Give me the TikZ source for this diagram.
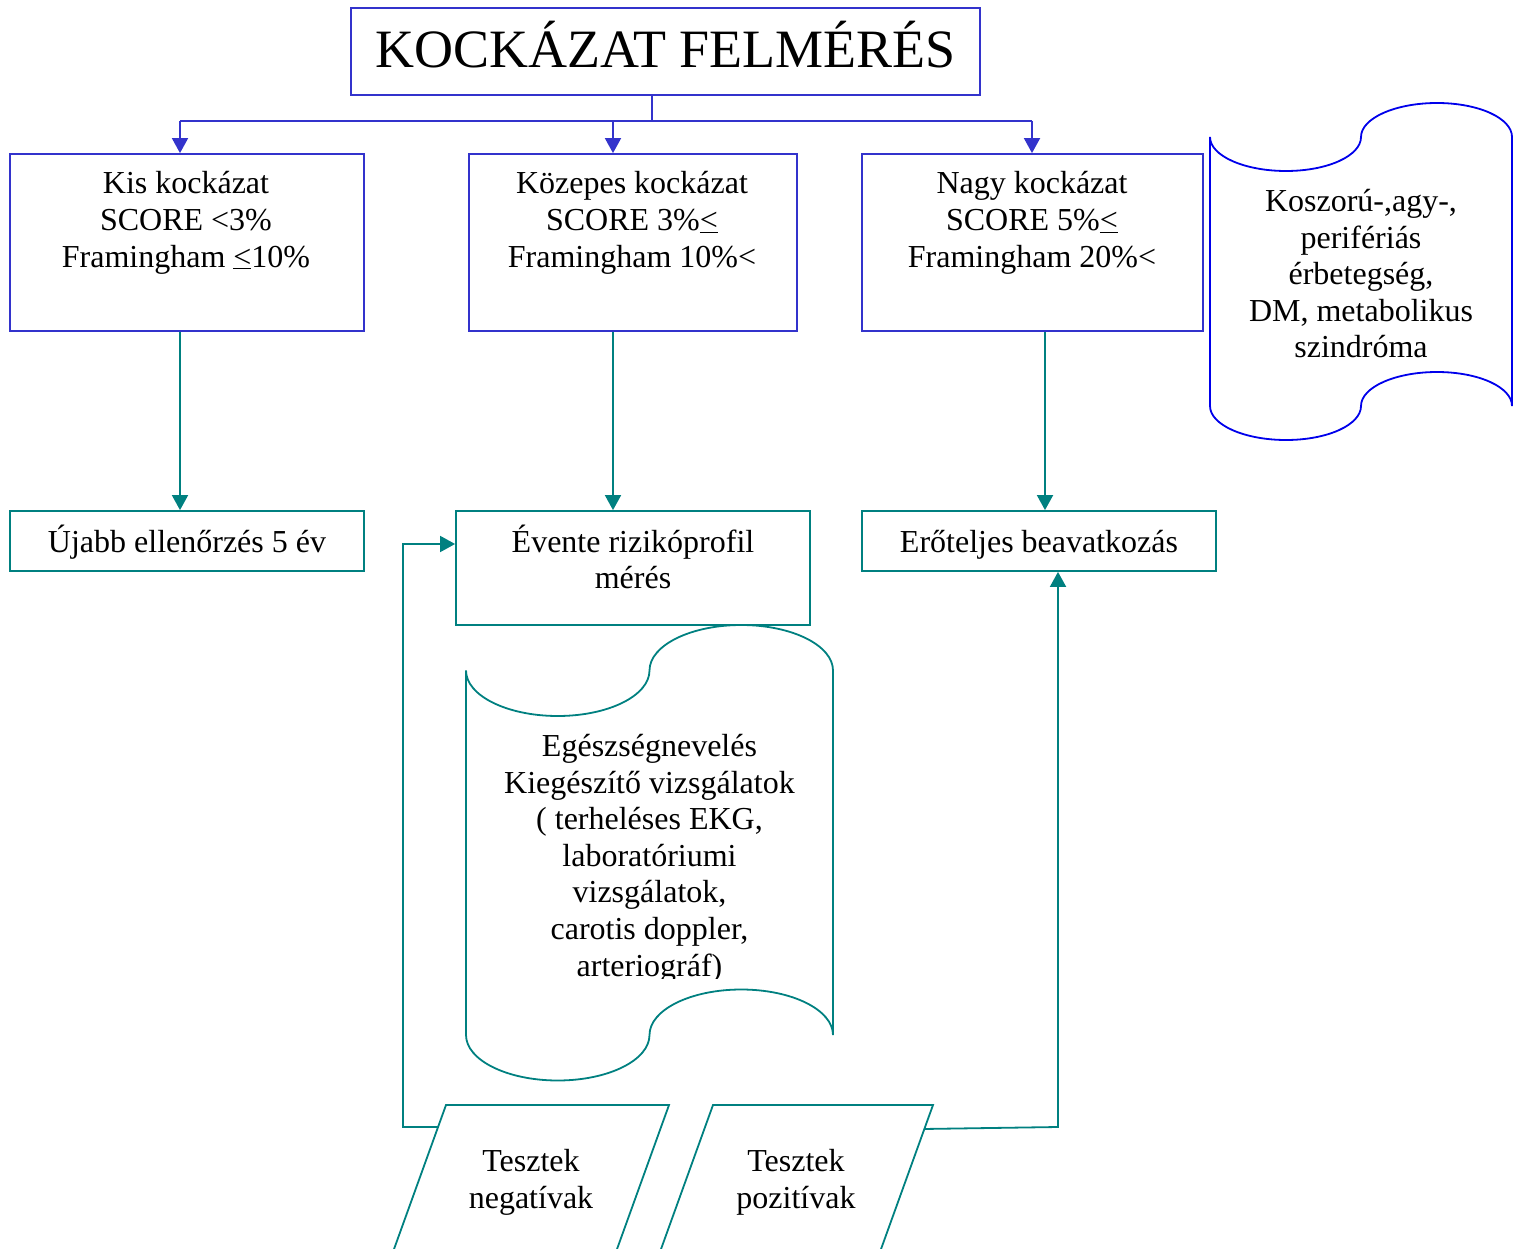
\documentclass[tikz,border=0pt]{standalone}
\usepackage{fontspec}
\setmainfont{Liberation Serif}
\usetikzlibrary{arrows.meta,calc}
\definecolor{dblue}{RGB}{51,51,204}
\definecolor{sblue}{RGB}{0,0,235}
\definecolor{tealc}{RGB}{0,128,128}
\begin{document}
\begin{tikzpicture}[x=1pt,y=-1pt,
  bbox/.style={draw=dblue,line width=1.8pt,rectangle,inner sep=0pt},
  tbox/.style={draw=tealc,line width=1.8pt,rectangle,inner sep=0pt},
  txt/.style={align=center,font=\fontsize{32}{36.6}\selectfont,inner sep=0pt},
  bline/.style={draw=dblue,line width=1.8pt},
  barrow/.style={draw=dblue,line width=1.8pt,-{Triangle[length=15pt,width=16pt]}},
  tline/.style={draw=tealc,line width=1.8pt},
  tarrow/.style={draw=tealc,line width=1.8pt,-{Triangle[length=15pt,width=16pt]}},
  scrollb/.style={draw=sblue,line width=1.8pt},
]
\useasboundingbox (0,0) rectangle (1515,1249);
\clip (0,0) rectangle (1515,1249);

% title
\node[bbox,minimum width=629pt,minimum height=87pt] (title) at (665.5,51.5) {};
\node[inner sep=0pt,anchor=base,font=\fontsize{54}{60}\selectfont] (titletxt) at (665.5,68) {KOCKÁZAT FELMÉRÉS};

% risk boxes (anchor=base refers to the last line)
\node[bbox,minimum width=354pt,minimum height=177pt] (box1) at (187,242.5) {};
\node[bbox,minimum width=328pt,minimum height=177pt] (box2) at (633,242.5) {};
\node[bbox,minimum width=341pt,minimum height=177pt] (box3) at (1032.5,242.5) {};
\node[txt,anchor=base] (t1) at (186,267.2) {Kis kockázat\\SCORE <3\%\\Framingham \underline{<}10\%};
\node[txt,anchor=base] (t2) at (632,267.2) {Közepes kockázat\\SCORE 3\%\underline{<}\\Framingham 10\%<};
\node[txt,anchor=base] (t3) at (1032,267.2) {Nagy kockázat\\SCORE 5\%\underline{<}\\Framingham 20\%<};

% blue scroll
\draw[scrollb] (1210,406) -- (1210,137)
  .. controls (1210,155.8) and (1244.3,171) .. (1286,171)
  .. controls (1327.7,171) and (1361,155.8) .. (1361,137)
  .. controls (1361,118.2) and (1395.3,103) .. (1437,103)
  .. controls (1478.7,103) and (1512,118.2) .. (1512,137)
  -- (1512,406)
  .. controls (1512,387.2) and (1478.7,372) .. (1437,372)
  .. controls (1395.3,372) and (1361,387.2) .. (1361,406)
  .. controls (1361,424.8) and (1327.7,440) .. (1286,440)
  .. controls (1244.3,440) and (1210,424.8) .. (1210,406) -- cycle;
\node[txt,anchor=base] (t7) at (1361,357.9) {Koszorú-,agy-,\\perifériás\\érbetegség,\\DM, metabolikus\\szindróma};

% action boxes
\node[tbox,minimum width=354pt,minimum height=60pt] (box4) at (187,541) {};
\node[tbox,minimum width=354pt,minimum height=114pt] (box5) at (633,568) {};
\node[tbox,minimum width=354pt,minimum height=60pt] (box6) at (1039,541) {};
\node[txt,anchor=base] (t4) at (187,552) {Újabb ellenőrzés 5 év};
\node[txt,anchor=base] (t5) at (633,588.6) {Évente rizikóprofil\\mérés};
\node[txt,anchor=base] (t6) at (1039,552) {Erőteljes beavatkozás};

% teal scroll
\draw[tline] (466,1035) -- (466,670.5)
  .. controls (466,695.6) and (507.05,716) .. (557.75,716)
  .. controls (608.45,716) and (649.5,695.6) .. (649.5,670.5)
  .. controls (649.5,645.4) and (690.55,625) .. (741.25,625)
  .. controls (791.95,625) and (833,645.4) .. (833,670.5)
  -- (833,1035)
  .. controls (833,1009.9) and (791.95,989.5) .. (741.25,989.5)
  .. controls (690.55,989.5) and (649.5,1009.9) .. (649.5,1035)
  .. controls (649.5,1060.1) and (608.45,1080.5) .. (557.75,1080.5)
  .. controls (507.05,1080.5) and (466,1060.1) .. (466,1035) -- cycle;
\begin{scope}
\clip (440,640) rectangle (860,978);
\node[txt,anchor=base] (t8) at (649.5,976.1) {Egészségnevelés\\Kiegészítő vizsgálatok\\( terheléses EKG,\\laboratóriumi\\vizsgálatok,\\carotis doppler,\\arteriográf)};
\end{scope}

% parallelograms
\coordinate (p1tl) at (446,1105);
\coordinate (p1tr) at (669,1105);
\coordinate (p1br) at (615.6,1253);
\coordinate (p1bl) at (392.6,1253);
\coordinate (p2tl) at (713,1105);
\coordinate (p2tr) at (933,1105);
\coordinate (p2br) at (879.6,1253);
\coordinate (p2bl) at (659.6,1253);
\draw[tline] (p1tl) -- (p1tr) -- (p1br) -- (p1bl) -- cycle;
\draw[tline] (p2tl) -- (p2tr) -- (p2br) -- (p2bl) -- cycle;
\node[txt,anchor=base] (neg) at (531,1208.1) {Tesztek\\negatívak};
\node[txt,anchor=base] (pos) at (796,1208.1) {Tesztek\\pozitívak};

% blue connectors
\coordinate (s) at (652,121);
\coordinate (j1) at (180,121);
\coordinate (j2) at (613,121);
\coordinate (j3) at (1032,121);
\coordinate (j4) at (1045,121);
\draw[bline] (title.south -| s) -- (s);
\draw[bline] (j1) -- (j3);
\draw[barrow] (j1) -- (j1 |- box1.north);
\draw[barrow] (j2) -- (j2 |- box2.north);
\draw[barrow] (j3) -- (j3 |- box3.north);

% teal connectors
\draw[tarrow] (box1.south -| j1) -- (box4.north -| j1);
\draw[tarrow] (box2.south -| j2) -- (box5.north -| j2);
\draw[tarrow] (box3.south -| j4) -- (box6.north -| j4);

\coordinate (p1e) at ($(p1tl)!0.1486!(p1bl)$);
\coordinate (n1) at (403,1127);
\coordinate (n2) at (403,544);
\draw[tarrow] (p1e) -- (n1) -- (n2) -- (n2 -| box5.west);

\coordinate (p2e) at ($(p2tr)!0.162!(p2br)$);
\coordinate (q1) at (1058,1127);
\draw[tarrow] (p2e) -- (q1) -- (q1 |- box6.south);
\end{tikzpicture}
\end{document}
